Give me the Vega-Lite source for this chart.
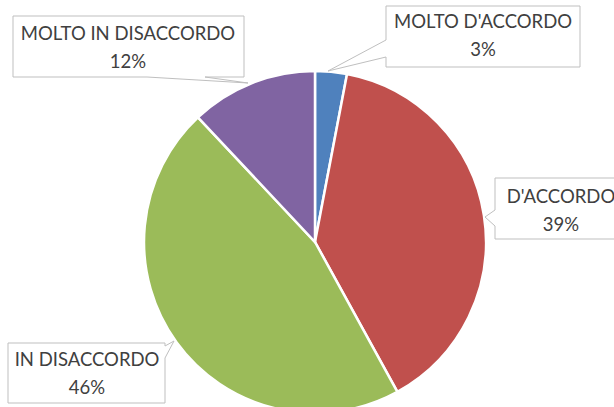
{
  "$schema": "https://vega.github.io/schema/vega-lite/v6.json",
  "width": 598,
  "height": 330,
  "autosize": "none",
  "padding": {"left": 16, "top": 77, "right": 0, "bottom": 0},
  "background": "white",
  "config": {"view": {"stroke": null}},
  "data": {
    "values": [
      {"categoria": "MOLTO D'ACCORDO", "valore": 0.03, "ordine": 1},
      {"categoria": "D'ACCORDO", "valore": 0.39, "ordine": 2},
      {"categoria": "IN DISACCORDO", "valore": 0.46, "ordine": 3},
      {"categoria": "MOLTO IN DISACCORDO", "valore": 0.12, "ordine": 4}
    ]
  },
  "transform": [
    {"calculate": "datum.categoria + '\\n' + format(datum.valore, '.0%')", "as": "etichetta"}
  ],
  "layer": [
    {
      "mark": {"type": "arc", "outerRadius": 171, "stroke": "white", "strokeWidth": 2.5},
      "encoding": {
        "theta": {"field": "valore", "type": "quantitative", "stack": true},
        "order": {"field": "ordine", "type": "quantitative"},
        "color": {
          "field": "categoria",
          "type": "nominal",
          "scale": {
            "domain": ["MOLTO D'ACCORDO", "D'ACCORDO", "IN DISACCORDO", "MOLTO IN DISACCORDO"],
            "range": ["#4F81BD", "#C0504D", "#9BBB59", "#8064A2"]
          },
          "legend": null
        }
      }
    },
    {
      "mark": {"type": "point", "filled": true, "fill": "white", "stroke": "#bfbfbf", "strokeWidth": 1, "opacity": 1, "size": 4},
      "encoding": {
        "shape": {
          "field": "categoria",
          "type": "nominal",
          "scale": {
            "domain": ["MOLTO D'ACCORDO", "D'ACCORDO", "IN DISACCORDO", "MOLTO IN DISACCORDO"],
            "range": [
              "M71,-236H265V-175H71V-185L13,-171L71,-202Z",
              "M180,-64H312V-3H180V-16L170,-25L180,-32Z",
              "M-307,101H-150V104L-141,99L-150,116V161H-307Z",
              "M-302,-226H-71V-165H-110L-67,-159L-168,-165H-302Z"
            ]
          },
          "legend": null
        }
      }
    },
    {
      "transform": [{"filter": {"field": "categoria", "equal": "MOLTO D'ACCORDO"}}],
      "mark": {"type": "text", "font": "Lato", "fontSize": 18.5, "color": "#404040", "lineHeight": 28, "lineBreak": "\n", "align": "center", "baseline": "middle", "dx": 168, "dy": -220},
      "encoding": {"text": {"field": "etichetta", "type": "nominal"}}
    },
    {
      "transform": [{"filter": {"field": "categoria", "equal": "D'ACCORDO"}}],
      "mark": {"type": "text", "font": "Lato", "fontSize": 18.5, "color": "#404040", "lineHeight": 28, "lineBreak": "\n", "align": "center", "baseline": "middle", "dx": 246, "dy": -45},
      "encoding": {"text": {"field": "etichetta", "type": "nominal"}}
    },
    {
      "transform": [{"filter": {"field": "categoria", "equal": "IN DISACCORDO"}}],
      "mark": {"type": "text", "font": "Lato", "fontSize": 18.5, "color": "#404040", "lineHeight": 28, "lineBreak": "\n", "align": "center", "baseline": "middle", "dx": -228, "dy": 118},
      "encoding": {"text": {"field": "etichetta", "type": "nominal"}}
    },
    {
      "transform": [{"filter": {"field": "categoria", "equal": "MOLTO IN DISACCORDO"}}],
      "mark": {"type": "text", "font": "Lato", "fontSize": 18.5, "color": "#404040", "lineHeight": 28, "lineBreak": "\n", "align": "center", "baseline": "middle", "dx": -187, "dy": -208},
      "encoding": {"text": {"field": "etichetta", "type": "nominal"}}
    }
  ]
}
